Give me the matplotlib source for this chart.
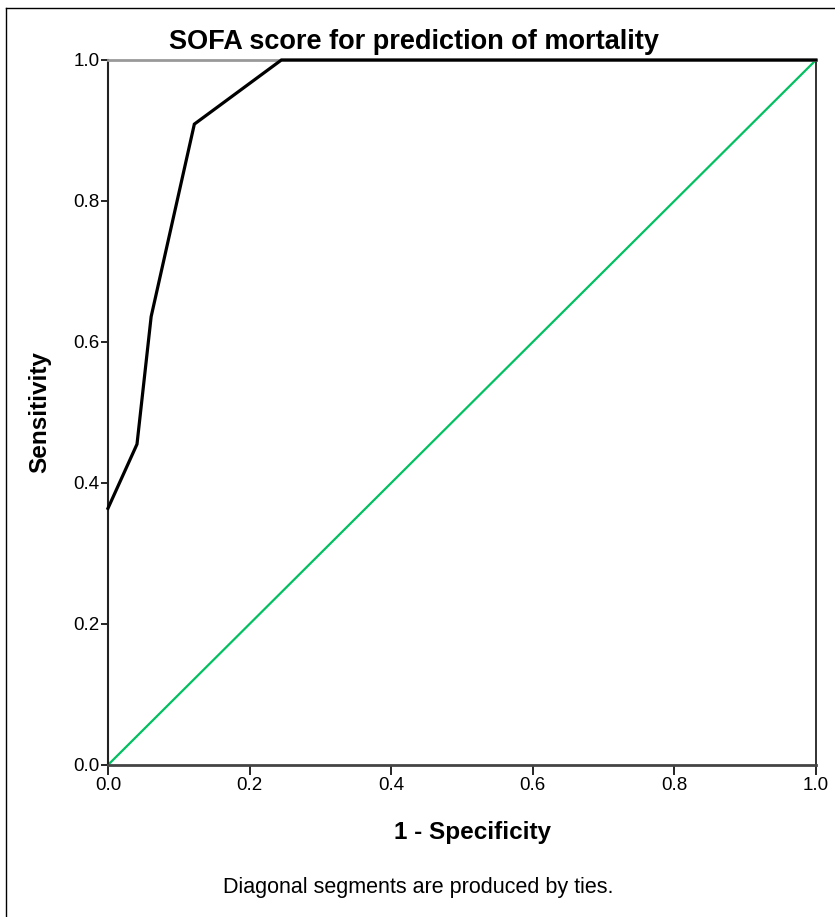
import matplotlib
matplotlib.use("Agg")
import matplotlib.pyplot as plt
from matplotlib.lines import Line2D

# ROC curve
fpr = [0.0, 0.041, 0.061, 0.122, 0.245, 1.0]
tpr = [0.364, 0.455, 0.636, 0.909, 1.0, 1.0]
ref_line = [0.0, 1.0]
ticks = [0.0, 0.2, 0.4, 0.6, 0.8, 1.0]
tick_labels = ["0.0", "0.2", "0.4", "0.6", "0.8", "1.0"]

plt.rcParams['font.family'] = ['Liberation Sans', 'DejaVu Sans']

fig = plt.figure(figsize=(8.35, 9.17), dpi=100)
ax = fig.add_axes([0.1293, 0.1658, 0.8479, 0.7688])

ax.plot(ref_line, ref_line, color='#00c060', lw=1.6, solid_capstyle='butt', zorder=2)
ax.plot(fpr, tpr, color='black', lw=2.3, solid_joinstyle='miter', zorder=3, clip_on=False)

ax.set_xlim(0, 1)
ax.set_ylim(0, 1)
ax.set_xticks(ticks)
ax.set_xticklabels(tick_labels)
ax.set_yticks(ticks)
ax.set_yticklabels(tick_labels)
ax.tick_params(axis='x', direction='out', length=7, width=1.2, labelsize=13.5, pad=2)
ax.tick_params(axis='y', direction='out', length=5, width=1.2, labelsize=13.5, pad=1)

ax.spines['left'].set_color('#222222')
ax.spines['left'].set_linewidth(1.5)
ax.spines['right'].set_color('#222222')
ax.spines['right'].set_linewidth(1.3)
ax.spines['bottom'].set_color('#444444')
ax.spines['bottom'].set_linewidth(2.0)
ax.spines['top'].set_color('#999999')
ax.spines['top'].set_linewidth(2.0)

fig.text(473 / 835, 1 - 832 / 917, "1 - Specificity", ha='center', va='center',
         fontsize=17.5, fontweight='bold')
fig.text(40 / 835, 1 - 412 / 917, "Sensitivity", ha='center', va='center',
         fontsize=17.5, fontweight='bold', rotation=90)
fig.text(414 / 835, 1 - 42 / 917, "SOFA score for prediction of mortality", ha='center', va='center',
         fontsize=19.5, fontweight='bold')
fig.text(418 / 835, 1 - 888 / 917, "Diagonal segments are produced by ties.", ha='center', va='center',
         fontsize=15.5)

# outer frame (left and top edges visible)
fig.add_artist(Line2D([0.007, 0.007], [0.0, 0.991], color='black', lw=1.0, transform=fig.transFigure))
fig.add_artist(Line2D([0.007, 1.0], [0.991, 0.991], color='black', lw=1.0, transform=fig.transFigure))

fig.savefig("out.png", dpi=100)
